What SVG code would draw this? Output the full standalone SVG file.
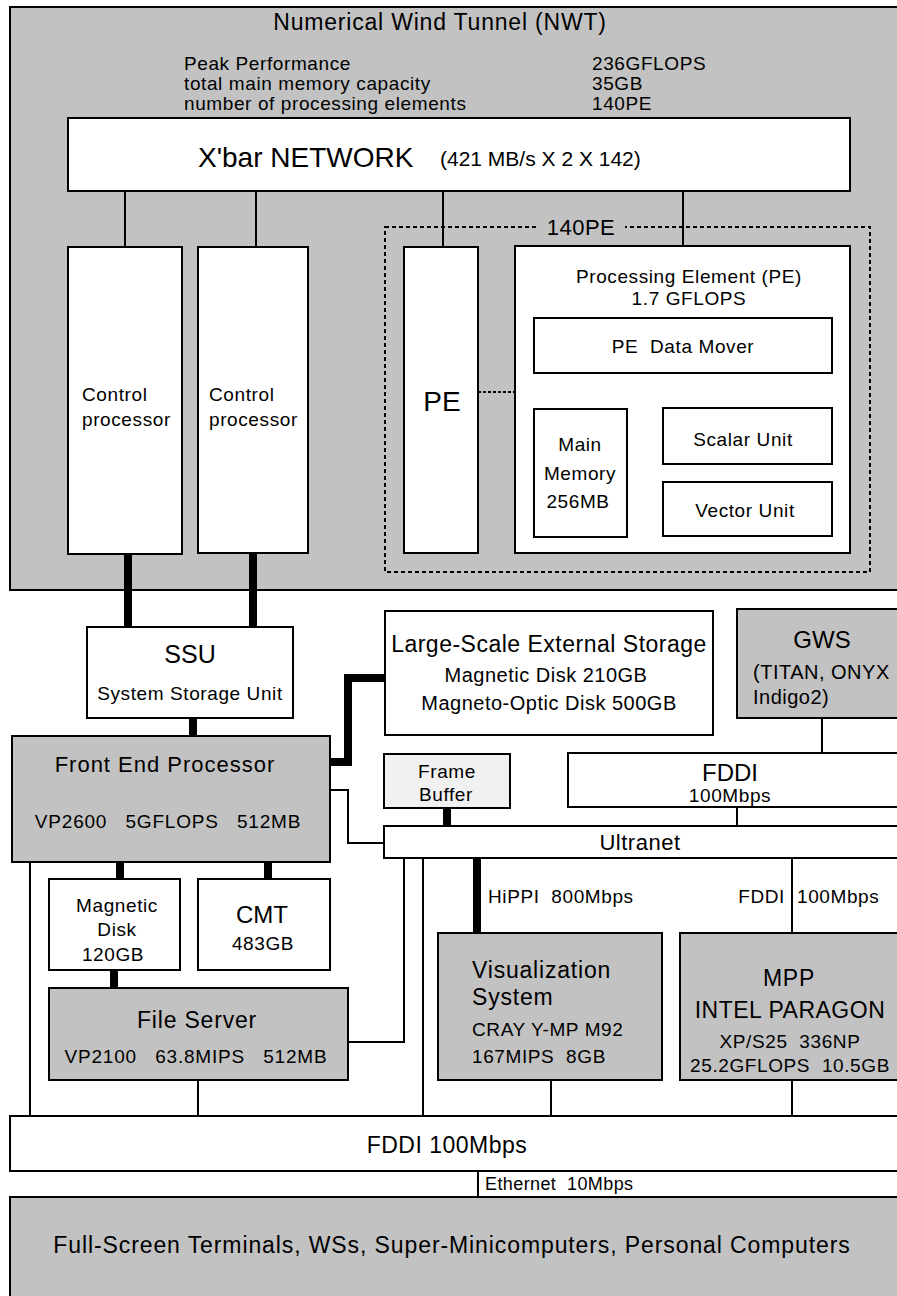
<svg xmlns="http://www.w3.org/2000/svg" width="897" height="1296" viewBox="0 0 897 1296">
<style>
text{font-family:"Liberation Sans",Arial,sans-serif;fill:#000}
.box{fill:#fff;stroke:#000;stroke-width:2}
.sh{fill:#c2c2c2;stroke:#000;stroke-width:2}
.ln{fill:none;stroke:#000;stroke-width:2}
.thk{fill:none;stroke:#000;stroke-width:8}
.dash{fill:none;stroke:#000;stroke-width:2;stroke-dasharray:4 3}
.c{text-anchor:middle}
.s19{font-size:19px;letter-spacing:0.6px}
.s20{font-size:20px;letter-spacing:0.5px}
.s23{font-size:23px;letter-spacing:0.8px}
</style>
<rect width="897" height="1296" fill="#fff"/>

<g id="nwt">
<rect class="sh" x="10" y="7" width="892" height="583"/>
<text class="c s23" x="440" y="30">Numerical Wind Tunnel (NWT)</text>
<text class="s19" x="184" y="70">Peak Performance</text>
<text class="s19" x="184" y="90">total main memory capacity</text>
<text class="s19" x="184" y="110">number of processing elements</text>
<text class="s19" x="592" y="70">236GFLOPS</text>
<text class="s19" x="592" y="90">35GB</text>
<text class="s19" x="592" y="110">140PE</text>
</g>

<g id="xbar">
<rect class="box" x="68" y="118" width="782" height="73"/>
<text x="198" y="167" font-size="28">X'bar NETWORK</text>
<text x="440" y="166" font-size="21">(421 MB/s X 2 X 142)</text>
</g>

<g id="pe-group">
<rect class="dash" x="385" y="227" width="485" height="345"/>
<rect x="537" y="216" width="88" height="22" fill="#c2c2c2"/>
<text class="c" x="581" y="235" font-size="22" letter-spacing="0.5">140PE</text>
</g>

<g id="cp1">
<rect class="box" x="68" y="247" width="114" height="307"/>
<text class="s19" x="82" y="401">Control</text>
<text class="s19" x="82" y="426">processor</text>
</g>
<g id="cp2">
<rect class="box" x="198" y="247" width="110" height="306"/>
<text class="s19" x="209" y="401">Control</text>
<text class="s19" x="209" y="426">processor</text>
</g>
<g id="pe">
<rect class="box" x="404" y="247" width="74" height="306"/>
<text class="c" x="442" y="411" font-size="28">PE</text>
</g>
<g id="pe-detail">
<rect class="box" x="515" y="246" width="335" height="307"/>
<text class="c s19" x="689" y="283">Processing Element (PE)</text>
<text class="c s19" x="689" y="305">1.7 GFLOPS</text>
</g>
<g id="datamover">
<rect class="box" x="534" y="318" width="298" height="55"/>
<text class="c s19" x="683" y="353" xml:space="preserve">PE  Data Mover</text>
</g>
<g id="mainmem">
<rect class="box" x="534" y="409" width="93" height="128"/>
<text class="c s19" x="580" y="451">Main</text>
<text class="c s19" x="580" y="480">Memory</text>
<text class="c s19" x="578" y="508">256MB</text>
</g>
<g id="scalar">
<rect class="box" x="663" y="408" width="169" height="56"/>
<text class="c s19" x="743" y="446">Scalar Unit</text>
</g>
<g id="vector">
<rect class="box" x="663" y="482" width="169" height="54"/>
<text class="c s19" x="745" y="517">Vector Unit</text>
</g>

<g id="ssu">
<rect class="box" x="87" y="627" width="206" height="91"/>
<text class="c" x="190" y="663" font-size="25">SSU</text>
<text class="c s19" x="190" y="700">System Storage Unit</text>
</g>
<g id="fep">
<rect class="sh" x="12" y="736" width="318" height="126"/>
<text class="c" x="165" y="772" font-size="22" letter-spacing="1">Front End Processor</text>
<text class="c" x="168" y="828" font-size="19" letter-spacing="0.8" xml:space="preserve">VP2600   5GFLOPS   512MB</text>
</g>
<g id="storage">
<rect class="box" x="385" y="611" width="328" height="124"/>
<text class="c" x="549" y="652" font-size="23" letter-spacing="0.5">Large-Scale External Storage</text>
<text class="c s20" x="546" y="682">Magnetic Disk 210GB</text>
<text class="c s20" x="549" y="710">Magneto-Optic Disk 500GB</text>
</g>
<g id="gws">
<rect class="sh" x="737" y="609" width="165" height="109"/>
<text class="c" x="822" y="648" font-size="24">GWS</text>
<text class="s20" x="753" y="679">(TITAN, ONYX</text>
<text class="s20" x="753" y="704">Indigo2)</text>
</g>
<g id="framebuffer">
<rect x="384" y="754" width="126" height="54" fill="#f0f0f0" stroke="#000" stroke-width="2"/>
<text class="c s19" x="447" y="778">Frame</text>
<text class="c s19" x="446" y="801">Buffer</text>
</g>
<g id="fddi-gws">
<rect class="box" x="568" y="753" width="334" height="54"/>
<text class="c" x="730" y="781" font-size="24">FDDI</text>
<text class="c s19" x="730" y="802">100Mbps</text>
</g>
<g id="ultranet">
<rect class="box" x="384" y="826" width="518" height="32"/>
<text class="c" x="640" y="850" font-size="22" letter-spacing="0.5">Ultranet</text>
</g>
<g id="magdisk">
<rect class="box" x="49" y="879" width="131" height="91"/>
<text class="c s19" x="117" y="912">Magnetic</text>
<text class="c s19" x="117" y="936">Disk</text>
<text class="c s19" x="113" y="961">120GB</text>
</g>
<g id="cmt">
<rect class="box" x="198" y="879" width="132" height="91"/>
<text class="c" x="262" y="923" font-size="24">CMT</text>
<text class="c s19" x="263" y="950">483GB</text>
</g>
<g id="fileserver">
<rect class="sh" x="49" y="988" width="299" height="92"/>
<text class="c s23" x="197" y="1028">File Server</text>
<text class="c" x="196" y="1063" font-size="19" letter-spacing="0.8" xml:space="preserve">VP2100   63.8MIPS   512MB</text>
</g>
<g id="vis">
<rect class="sh" x="438" y="933" width="224" height="147"/>
<text class="s23" x="472" y="978">Visualization</text>
<text class="s23" x="472" y="1005">System</text>
<text class="s19" x="472" y="1036">CRAY Y-MP M92</text>
<text class="s19" x="472" y="1063" xml:space="preserve">167MIPS  8GB</text>
</g>
<g id="mpp">
<rect class="sh" x="680" y="933" width="222" height="147"/>
<text class="c s23" x="789" y="986">MPP</text>
<text class="c" x="790" y="1018" font-size="23" letter-spacing="0.5">INTEL PARAGON</text>
<text class="c s19" x="790" y="1048" xml:space="preserve">XP/S25  336NP</text>
<text class="c s19" x="790" y="1072" xml:space="preserve">25.2GFLOPS  10.5GB</text>
</g>
<g id="fddi-main">
<rect class="box" x="10" y="1116" width="892" height="55"/>
<text class="c" x="447" y="1153" font-size="23" letter-spacing="0.5">FDDI 100Mbps</text>
</g>
<g id="terminals">
<rect class="sh" x="10" y="1197" width="892" height="110"/>
<text class="c" x="452" y="1253" font-size="23" letter-spacing="0.9">Full-Screen Terminals, WSs, Super-Minicomputers, Personal Computers</text>
</g>

<g id="connectors">
<line class="ln" x1="125" y1="191" x2="125" y2="247"/>
<line class="ln" x1="256" y1="191" x2="256" y2="247"/>
<line class="ln" x1="443" y1="191" x2="443" y2="247"/>
<line class="ln" x1="683" y1="191" x2="683" y2="246"/>
<line stroke="#000" stroke-width="2" stroke-dasharray="3 2" x1="478" y1="392" x2="515" y2="392"/>
<line class="thk" x1="128" y1="554" x2="128" y2="627"/>
<line class="thk" x1="253" y1="553" x2="253" y2="627"/>
<line class="thk" x1="193" y1="718" x2="193" y2="736"/>
<polyline class="thk" points="330,762 348,762 348,678 385,678"/>
<polyline class="ln" points="330,790 348,790 348,843 384,843"/>
<line class="thk" x1="447" y1="808" x2="447" y2="826"/>
<line class="ln" x1="822" y1="718" x2="822" y2="753"/>
<line class="ln" x1="737" y1="807" x2="737" y2="826"/>
<line class="thk" x1="120" y1="862" x2="120" y2="879"/>
<line class="thk" x1="268" y1="862" x2="268" y2="879"/>
<line class="thk" x1="114" y1="970" x2="114" y2="988"/>
<line class="ln" x1="30" y1="862" x2="30" y2="1116"/>
<line class="ln" x1="198" y1="1080" x2="198" y2="1116"/>
<polyline class="ln" points="348,1042 404,1042 404,858"/>
<line class="ln" x1="423" y1="858" x2="423" y2="1116"/>
<line class="thk" x1="477" y1="858" x2="477" y2="933"/>
<text class="s19" x="488" y="903" xml:space="preserve">HiPPI  800Mbps</text>
<line class="ln" x1="792" y1="858" x2="792" y2="933"/>
<text class="s19" x="785" y="903" text-anchor="end">FDDI</text>
<text class="s19" x="797" y="903">100Mbps</text>
<line class="ln" x1="551" y1="1080" x2="551" y2="1116"/>
<line class="ln" x1="792" y1="1080" x2="792" y2="1116"/>
<line class="ln" x1="478" y1="1171" x2="478" y2="1197"/>
<text x="485" y="1190" font-size="18" letter-spacing="0.4" xml:space="preserve">Ethernet  10Mbps</text>
</g>
</svg>
